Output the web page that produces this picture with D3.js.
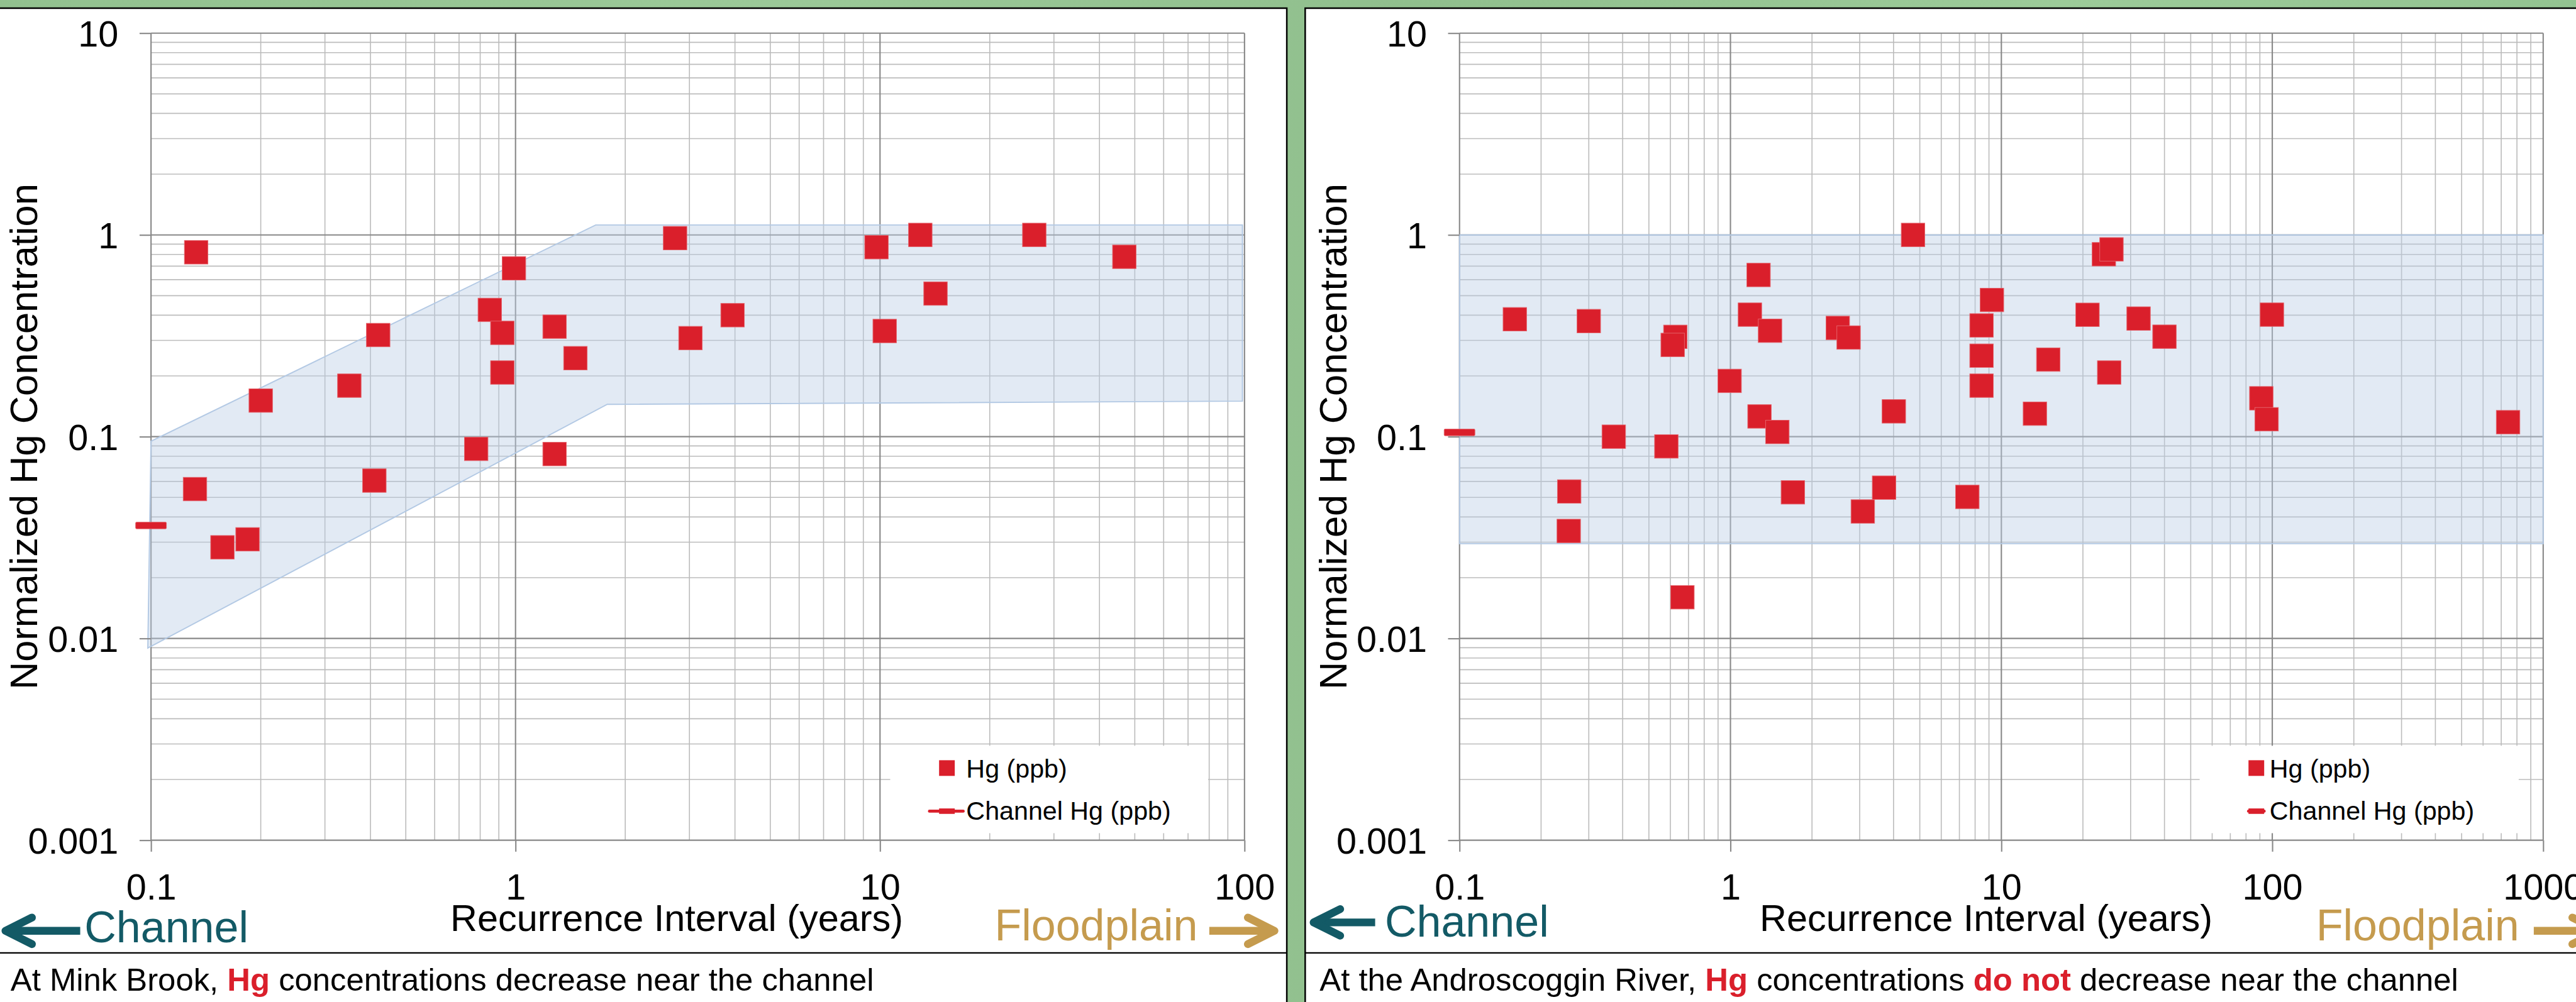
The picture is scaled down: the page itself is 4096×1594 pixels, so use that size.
<!DOCTYPE html>
<html>
<head>
<meta charset="utf-8">
<script src="https://cdn.jsdelivr.net/npm/d3@7"></script>
<style>
  html, body { margin: 0; padding: 0; background: #95c494; overflow: hidden; }
  svg { display: block; }
</style>
</head>
<body>
<svg id="fig" width="4096" height="1594" viewBox="0 0 4271 1662"></svg>
<script>
// ---------- Data ----------
// Mink Brook: recurrence interval (years) and normalized Hg concentration
const minkRecurrence = [0.133, 0.132, 0.157, 0.184, 0.20, 0.35, 0.41, 0.42, 0.78, 0.85, 0.92, 0.92, 0.99,
  1.28, 1.28, 1.46, 2.74, 3.02, 3.94, 9.78, 10.3, 12.9, 14.2, 26.5, 46.8];
const minkHg = [0.82, 0.055, 0.0283, 0.031, 0.151, 0.179, 0.0606, 0.319, 0.087, 0.425, 0.327, 0.208, 0.683,
  0.351, 0.082, 0.245, 0.964, 0.308, 0.40, 0.869, 0.334, 1.0, 0.512, 1.0, 0.779];
const minkChannelHg = 0.0363;
// envelope around the Mink Brook samples
const minkBandRecurrence = [0.1, 1.66, 98.7, 98.7, 1.785, 0.098];
const minkBandHg = [0.095, 1.12, 1.12, 0.150, 0.1446, 0.00896];

// Androscoggin River
const androRecurrence = [0.16, 0.30, 0.626, 0.612, 0.993, 1.27, 1.18, 1.40, 2.49, 2.73, 4.72, 23.9, 25.5,
  9.23, 8.45, 8.45, 8.45, 20.8, 32.1, 40.0, 99.7, 14.9, 25.0, 91.1, 95.3, 742, 13.3, 7.49, 4.01,
  0.371, 0.58, 0.254, 0.253, 0.665, 1.28, 1.49, 1.70, 3.08, 3.69];
const androHg = [0.382, 0.374, 0.3125, 0.285, 0.189, 0.633, 0.4025, 0.335, 0.346, 0.31, 1.0, 0.802, 0.848,
  0.476, 0.356, 0.252, 0.179, 0.402, 0.385, 0.313, 0.4025, 0.241, 0.208, 0.155, 0.122, 0.118, 0.13, 0.0503, 0.1335,
  0.100, 0.0895, 0.0535, 0.0341, 0.016, 0.126, 0.1055, 0.053, 0.0426, 0.0559];
const androChannelHg = 0.105;
const androBandRecurrence = [0.1, 1000, 1000, 0.1];
const androBandHg = [1, 1, 0.0295, 0.0295];

// Axis ticks
const hgTicks = [0.001, 0.01, 0.1, 1, 10];
const hgTickLabels = ["0.001", "0.01", "0.1", "1", "10"];
const minkIntervalTicks = [0.1, 1, 10, 100];
const minkIntervalLabels = ["0.1", "1", "10", "100"];
const androIntervalTicks = [0.1, 1, 10, 100, 1000];
const androIntervalLabels = ["0.1", "1", "10", "100", "1000"];

// ---------- Styling & layout ----------
const FONT = "'Liberation Sans', Arial, Helvetica, sans-serif";
const RED = "#da1f2b";
const TEAL = "#135a66";
const GOLD = "#c59b4e";
const MAJOR = "#888888";
const MINOR = "#bcbcbc";
const PLOT_TOP = 54.9, PLOT_BOTTOM = 1393.7;

const svg = d3.select("#fig");

// green backdrop
const defs = svg.append("defs");
const grad = defs.append("linearGradient").attr("id", "bg").attr("x1", 0).attr("x2", 1).attr("y1", 0).attr("y2", 0);
[["0%", "#92c18f"], ["30%", "#9bc998"], ["55%", "#90bf8d"], ["80%", "#9ccb99"], ["100%", "#93c391"]]
  .forEach(([o, c]) => grad.append("stop").attr("offset", o).attr("stop-color", c));
svg.append("rect").attr("width", 4271).attr("height", 1662).attr("fill", "url(#bg)");

const panels = [
  {
    frame: [-20, 13.5, 2153.5, 1700],
    xRange: [250.4, 2063.4], domain: [0.1, 100],
    ticks: minkIntervalTicks, tickLabels: minkIntervalLabels,
    recurrence: minkRecurrence, hg: minkHg, channel: minkChannelHg,
    bandX: minkBandRecurrence, bandY: minkBandHg,
    yTitleX: 61.7, xTitleX: 1122,
    legend: { x0: 1476, x1: 2003, y0: 1237, y1: 1382, sq: 1557, text: 1602, line: [1541, 1597] },
    channelLabel: { arrowTip: 9, tail: 133, y: 1544, textX: 140, baseline: 1563.5 },
    floodLabel: { textX: 1649, baseline: 1560, tail: 2005, arrowTip: 2113, y: 1544 },
    caption: { x: 17.5, parts: [["At Mink Brook, ", false], ["Hg", true], [" concentrations decrease near the channel", false]] }
  },
  {
    frame: [2164, 13.5, 2200, 1700],
    xRange: [2419.9, 4216.6], domain: [0.1, 1000],
    ticks: androIntervalTicks, tickLabels: androIntervalLabels,
    recurrence: androRecurrence, hg: androHg, channel: androChannelHg,
    bandX: androBandRecurrence, bandY: androBandHg,
    yTitleX: 2232, xTitleX: 3293,
    legend: { x0: 3647, x1: 4176, y0: 1237, y1: 1382, sq: 3728, text: 3763, line: [3728, 3754] },
    channelLabel: { arrowTip: 2178, tail: 2280, y: 1530, textX: 2296, baseline: 1554 },
    floodLabel: { textX: 3840, baseline: 1560, tail: 4201, arrowTip: 4309, y: 1544 },
    caption: { x: 2188, parts: [["At the Androscoggin River, ", false], ["Hg", true], [" concentrations ", false], ["do not", true], [" decrease near the channel", false]] }
  }
];

function drawPanel(p) {
  const g = svg.append("g");
  const [fx, fy, fw, fh] = p.frame;
  // white card with black border
  g.append("rect").attr("x", fx).attr("y", fy).attr("width", fw).attr("height", fh)
    .attr("fill", "#fff").attr("stroke", "#000").attr("stroke-width", 2.6);
  // caption divider
  g.append("line").attr("x1", fx).attr("x2", fx + fw).attr("y1", 1580.5).attr("y2", 1580.5)
    .attr("stroke", "#000").attr("stroke-width", 2.4);

  const x = d3.scaleLog().domain(p.domain).range(p.xRange);
  const y = d3.scaleLog().domain([0.001, 10]).range([PLOT_BOTTOM, PLOT_TOP]);
  const isMajor = v => Math.abs(Math.log10(v) - Math.round(Math.log10(v))) < 1e-9;

  const xAll = x.ticks(), yAll = y.ticks();
  const grid = g.append("g");
  // minor grid
  grid.selectAll(".vmin").data(xAll.filter(v => !isMajor(v))).join("line")
    .attr("x1", d => x(d)).attr("x2", d => x(d)).attr("y1", PLOT_TOP).attr("y2", PLOT_BOTTOM)
    .attr("stroke", MINOR).attr("stroke-width", 1.7);
  grid.selectAll(".hmin").data(yAll.filter(v => !isMajor(v))).join("line")
    .attr("y1", d => y(d)).attr("y2", d => y(d)).attr("x1", p.xRange[0]).attr("x2", p.xRange[1])
    .attr("stroke", MINOR).attr("stroke-width", 1.7);
  // major grid
  grid.selectAll(".vmaj").data(xAll.filter(isMajor)).join("line")
    .attr("x1", d => x(d)).attr("x2", d => x(d)).attr("y1", PLOT_TOP).attr("y2", PLOT_BOTTOM)
    .attr("stroke", MAJOR).attr("stroke-width", 2.2);
  grid.selectAll(".hmaj").data(yAll.filter(isMajor)).join("line")
    .attr("y1", d => y(d)).attr("y2", d => y(d)).attr("x1", p.xRange[0]).attr("x2", p.xRange[1])
    .attr("stroke", MAJOR).attr("stroke-width", 2.2);

  // shaded envelope
  const band = p.bandX.map((v, i) => [v, p.bandY[i]]);
  g.append("path")
    .attr("d", d3.line().x(d => x(d[0])).y(d => y(d[1]))(band) + "Z")
    .attr("fill", "#b9cde5").attr("fill-opacity", 0.42)
    .attr("stroke", "#b3c9e4").attr("stroke-width", 2);

  // axes (major ticks + labels)
  const yAxis = d3.axisLeft(y).tickValues(hgTicks).tickFormat((d, i) => hgTickLabels[i])
    .tickSize(19).tickPadding(35);
  const ya = g.append("g").attr("transform", `translate(${p.xRange[0]},0)`).call(yAxis);
  const xAxis = d3.axisBottom(x).tickValues(p.ticks).tickFormat((d, i) => p.tickLabels[i])
    .tickSize(19).tickPadding(37);
  const xa = g.append("g").attr("transform", `translate(0,${PLOT_BOTTOM})`).call(xAxis);
  [ya, xa].forEach(a => {
    a.select(".domain").remove();
    a.selectAll(".tick line").attr("stroke", MAJOR).attr("stroke-width", 2.2);
    a.selectAll(".tick text").attr("font-family", FONT).attr("font-size", 60).attr("fill", "#000");
  });
  ya.selectAll(".tick text").attr("dy", "0.36em");

  // axis titles
  g.append("text").attr("transform", `translate(${p.yTitleX},${(PLOT_TOP + PLOT_BOTTOM) / 2}) rotate(-90)`)
    .attr("text-anchor", "middle").attr("font-family", FONT).attr("font-size", 64).attr("fill", "#000")
    .text("Normalized Hg Concentration");
  g.append("text").attr("x", p.xTitleX).attr("y", 1544).attr("text-anchor", "middle")
    .attr("font-family", FONT).attr("font-size", 62).attr("fill", "#000")
    .text("Recurrence Interval (years)");

  // sample markers
  const S = 39;
  g.append("g").selectAll("rect").data(p.recurrence.map((r, i) => [r, p.hg[i]])).join("rect")
    .attr("x", d => x(d[0]) - S / 2).attr("y", d => y(d[1]) - S / 2)
    .attr("width", S).attr("height", S)
    .attr("fill", RED).attr("stroke", "#e4646c").attr("stroke-width", 1);

  // channel value marker (dash at the channel end of the axis)
  g.append("rect").attr("x", x(0.1) - 25.5).attr("y", y(p.channel) - 5.5)
    .attr("width", 51).attr("height", 11).attr("rx", 1.5)
    .attr("fill", RED).attr("stroke", "#e4646c").attr("stroke-width", 1);

  // legend
  const L = p.legend;
  const lg = g.append("g");
  lg.append("rect").attr("x", L.x0).attr("y", L.y0).attr("width", L.x1 - L.x0).attr("height", L.y1 - L.y0)
    .attr("fill", "#fff");
  lg.append("rect").attr("x", L.sq).attr("y", 1261).attr("width", 26).attr("height", 26).attr("fill", RED);
  lg.append("text").attr("x", L.text).attr("y", 1290).attr("font-family", FONT).attr("font-size", 43)
    .attr("fill", "#000").text("Hg (ppb)");
  lg.append("line").attr("x1", L.line[0]).attr("x2", L.line[1]).attr("y1", 1345.5).attr("y2", 1345.5)
    .attr("stroke", RED).attr("stroke-width", 5).attr("stroke-linecap", "round");
  lg.append("rect").attr("x", L.sq).attr("y", 1341).attr("width", 26).attr("height", 9).attr("fill", RED);
  lg.append("text").attr("x", L.text).attr("y", 1360).attr("font-family", FONT).attr("font-size", 43)
    .attr("fill", "#000").text("Channel Hg (ppb)");

  // direction cues
  const C = p.channelLabel;
  g.append("line").attr("x1", C.arrowTip + 4).attr("x2", C.tail).attr("y1", C.y).attr("y2", C.y)
    .attr("stroke", TEAL).attr("stroke-width", 13);
  g.append("path").attr("d", `M${C.arrowTip + 44},${C.y - 22}L${C.arrowTip},${C.y}L${C.arrowTip + 44},${C.y + 22}`)
    .attr("fill", "none").attr("stroke", TEAL).attr("stroke-width", 13)
    .attr("stroke-linecap", "round").attr("stroke-linejoin", "round");
  g.append("text").attr("x", C.textX).attr("y", C.baseline).attr("font-family", FONT).attr("font-size", 73)
    .attr("fill", TEAL).text("Channel");

  const F = p.floodLabel;
  g.append("text").attr("x", F.textX).attr("y", F.baseline).attr("font-family", FONT).attr("font-size", 73)
    .attr("fill", GOLD).text("Floodplain");
  g.append("line").attr("x1", F.tail).attr("x2", F.arrowTip - 4).attr("y1", F.y).attr("y2", F.y)
    .attr("stroke", GOLD).attr("stroke-width", 13);
  g.append("path").attr("d", `M${F.arrowTip - 44},${F.y - 22}L${F.arrowTip},${F.y}L${F.arrowTip - 44},${F.y + 22}`)
    .attr("fill", "none").attr("stroke", GOLD).attr("stroke-width", 13)
    .attr("stroke-linecap", "round").attr("stroke-linejoin", "round");

  // caption
  const cap = g.append("text").attr("x", p.caption.x).attr("y", 1643)
    .attr("font-family", FONT).attr("font-size", 53).attr("fill", "#000");
  p.caption.parts.forEach(([t, hl]) => {
    cap.append("tspan").text(t)
      .attr("fill", hl ? RED : "#000")
      .attr("font-weight", hl ? "bold" : "normal")
      .style("white-space", "pre");
  });
}

panels.forEach(drawPanel);
</script>
</body>
</html>
